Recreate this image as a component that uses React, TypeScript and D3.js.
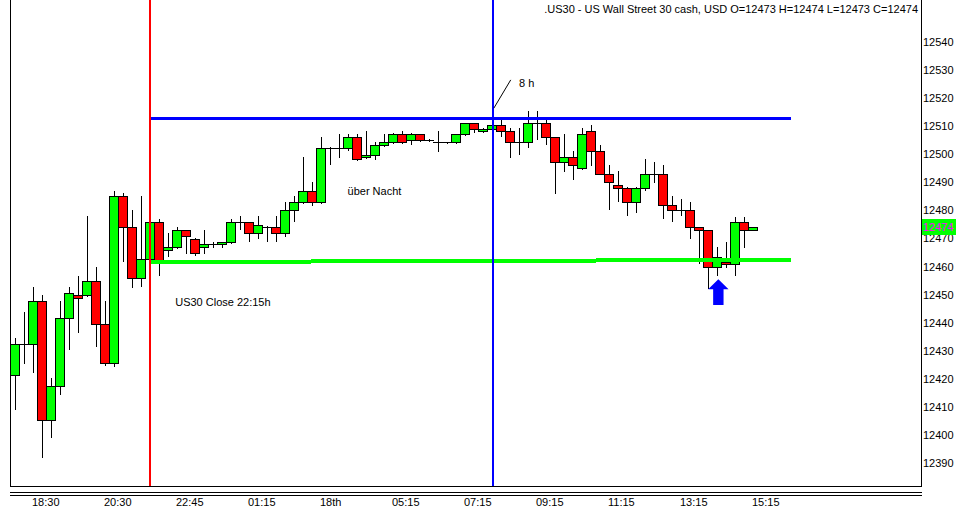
import React from 'react';
import * as d3 from 'd3';

// OHLC of 15-minute bars
const opens = [12421.3,12432.3,12432.3,12447.6,12405.3,12417.3,12441.6,12449.8,12449.8,12454.7,12439.4,12425.5,12485.0,12474.0,12455.8,12462.6,12475.8,12465.9,12466.9,12472.9,12469.7,12466.9,12467.9,12467.9,12468.6,12475.8,12475.8,12471.8,12474.0,12474.0,12471.8,12480.1,12483.0,12486.9,12483.0,12502.1,12502.1,12502.1,12506.0,12498.9,12499.9,12503.2,12504.3,12507.1,12505.1,12507.1,12505.1,12504.3,12504.3,12504.3,12507.1,12511.0,12508.3,12509.1,12510.3,12508.2,12504.3,12504.3,12511.0,12511.0,12506.0,12497.1,12498.9,12495.0,12508.2,12501.1,12493.0,12489.0,12488.0,12482.9,12488.0,12493.0,12493.0,12481.8,12480.0,12480.0,12474.0,12472.9,12459.7,12461.6,12460.8,12475.8,12473.0];
const highs = [12434.4,12443.7,12452.7,12449.9,12420.3,12447.7,12452.7,12456.5,12478.0,12459.7,12447.7,12486.9,12486.1,12480.1,12485.1,12476.0,12477.0,12471.8,12474.0,12473.0,12470.0,12473.0,12468.7,12468.8,12477.0,12478.0,12476.0,12478.0,12474.5,12478.0,12483.0,12485.1,12499.0,12490.2,12506.2,12502.5,12507.2,12507.2,12507.2,12508.3,12504.3,12507.2,12507.5,12508.3,12507.5,12507.4,12505.3,12508.3,12504.5,12507.3,12511.2,12511.2,12509.5,12511.0,12512.5,12509.3,12509.4,12515.4,12515.4,12512.8,12506.2,12507.2,12501.1,12509.3,12510.4,12503.2,12496.1,12494.0,12488.2,12488.2,12498.3,12497.2,12496.2,12485.0,12484.0,12482.9,12474.2,12473.0,12466.9,12468.6,12477.8,12477.8,12474.0];
const lows = [12409.4,12425.7,12422.6,12392.3,12399.4,12414.5,12430.7,12436.7,12449.5,12431.8,12425.0,12424.7,12462.1,12452.8,12453.0,12462.0,12457.0,12463.9,12466.5,12465.0,12464.0,12465.0,12466.9,12467.0,12468.3,12473.3,12469.0,12470.0,12469.0,12469.0,12471.0,12476.1,12482.5,12482.0,12482.8,12496.4,12499.1,12501.5,12498.0,12498.5,12498.4,12503.0,12504.0,12504.0,12503.6,12504.8,12504.9,12501.3,12504.0,12504.0,12507.0,12508.0,12508.0,12509.0,12506.5,12499.1,12500.2,12502.5,12505.3,12503.6,12486.3,12494.2,12491.3,12494.8,12496.3,12492.8,12480.4,12483.4,12478.3,12479.4,12487.3,12490.0,12477.2,12476.1,12478.3,12470.0,12461.2,12452.5,12456.9,12460.0,12456.9,12467.1,12473.0];
const closes = [12432.3,12432.3,12447.6,12405.3,12417.3,12441.6,12450.5,12448.7,12454.7,12439.4,12425.5,12485.0,12474.0,12455.8,12462.6,12475.8,12462.5,12466.9,12472.9,12470.8,12464.7,12467.9,12467.9,12468.6,12475.8,12475.8,12471.8,12474.7,12474.0,12471.8,12480.1,12483.0,12486.9,12483.0,12502.1,12502.1,12502.1,12506.0,12498.2,12499.9,12503.2,12504.3,12507.1,12504.3,12507.1,12505.1,12505.1,12504.3,12504.3,12507.1,12511.0,12509.1,12509.1,12510.3,12508.2,12504.3,12504.3,12511.0,12511.0,12506.0,12497.1,12498.9,12496.1,12507.1,12501.1,12493.0,12490.0,12488.0,12482.9,12488.0,12493.0,12493.0,12481.8,12480.0,12480.0,12474.0,12472.9,12459.7,12463.5,12460.8,12475.8,12472.9,12474.0];

const priceTicks = [12540,12530,12520,12510,12500,12490,12480,12470,12460,12450,12440,12430,12420,12410,12400,12390];
const timeLabels = ['18:30','20:30','22:45','01:15','18th','05:15','07:15','09:15','11:15','13:15','15:15'];
const timeLabelBars = [3,11,19,27,35,43,51,59,67,75,83];

const titleText = '.US30 - US Wall Street 30 cash, USD O=12473 H=12474 L=12473 C=12474';
const lastPrice = 12474;

// drawn objects (bar index / price)
const verticalBars = [15, 53.1];
const blueTrend = [{ bar: 15, price: 12512.8 }, { bar: 86.2, price: 12512.8 }];
const greenTrend = [{ bar: 15.1, price: 12461.6 }, { bar: 86.2, price: 12462.4 }];
const arrowAt = { bar: 78.15, price: 12455.5 };
const noteLine = [{ bar: 53.2, price: 12516.4 }, { bar: 55.08, price: 12526.5 }];
const textNotes = [
  { text: 'über Nacht', bar: 36.95, price: 12485.6 },
  { text: 'US30 Close 22:15h', bar: 17.8, price: 12446.0 },
  { text: '8 h', bar: 56.0, price: 12524.0 },
];

const GREEN = '#00ff00';
const RED = '#ff0000';
const BLUE = '#0000ff';
const FONT = '"Liberation Sans", Arial, sans-serif';

export default function App() {
  const W = 962, H = 514;
  const left = 10, right = 921, bottom = 486;
  const x = d3.scaleLinear().domain([0, 1]).range([15, 24]);
  const y = d3.scaleLinear().domain([12390, 12540]).range([463.05, 42]);
  const line = d3.line<{ bar: number; price: number }>().x(d => x(d.bar)).y(d => y(d.price));

  const ax = x(arrowAt.bar), ay = y(arrowAt.price);
  const arrowPts = [
    [ax, ay], [ax + 10.2, ay + 10], [ax + 5.2, ay + 10], [ax + 5.2, ay + 25.7],
    [ax - 5.2, ay + 25.7], [ax - 5.2, ay + 10], [ax - 10.2, ay + 10],
  ].map(p => p.join(',')).join(' ');

  return (
    <svg width={W} height={H} style={{ position: 'absolute', left: 0, top: 0, background: '#fff' }}
      fontFamily={FONT}>
      <rect x={0} y={0} width={W} height={H} fill="#fff" />
      {/* candles */}
      <g shapeRendering="crispEdges">
        {opens.map((o, i) => {
          const c = closes[i];
          const cx = x(i);
          const t = Math.round(y(Math.max(o, c)));
          const b = Math.round(y(Math.min(o, c)));
          const color = c > o ? GREEN : RED;
          return (
            <g key={i}>
              <line x1={cx + 0.5} x2={cx + 0.5} y1={Math.round(y(highs[i]))} y2={Math.round(y(lows[i])) + 1}
                stroke="#000" strokeWidth={1} />
              {b - t >= 1 ? (
                <rect x={cx - 4.5} y={t + 0.5} width={9} height={b - t} fill={color} stroke="#000" strokeWidth={1} />
              ) : (
                <line x1={cx - 5} x2={cx + 5} y1={t + 0.5} y2={t + 0.5} stroke="#000" strokeWidth={1} />
              )}
            </g>
          );
        })}
      </g>
      {/* objects */}
      <g shapeRendering="crispEdges">
        <path d={line(greenTrend) || ''} stroke={GREEN} strokeWidth={4} fill="none" />
        <path d={line(blueTrend) || ''} stroke={BLUE} strokeWidth={3} fill="none" />
        <line x1={x(verticalBars[0])} x2={x(verticalBars[0])} y1={0} y2={bottom} stroke={RED} strokeWidth={2} />
        <line x1={x(verticalBars[1])} x2={x(verticalBars[1])} y1={0} y2={bottom} stroke={BLUE} strokeWidth={2} />
      </g>
      <path d={line(noteLine) || ''} stroke="#000" strokeWidth={1} fill="none" />
      <polygon points={arrowPts} fill={BLUE} />
      {textNotes.map((n, i) => (
        <text key={i} x={x(n.bar)} y={y(n.price)} fontSize={11} fill="#000">{n.text}</text>
      ))}
      {/* frame */}
      <g shapeRendering="crispEdges" stroke="#000" strokeWidth={1}>
        <line x1={left + 0.5} x2={left + 0.5} y1={0} y2={bottom + 1} />
        <line x1={right + 0.5} x2={right + 0.5} y1={0} y2={bottom + 1} />
        <line x1={left} x2={right + 1} y1={bottom + 0.5} y2={bottom + 0.5} />
        <line x1={left} x2={right + 1} y1={492.5} y2={492.5} />
        <line x1={left} x2={right + 1} y1={495.5} y2={495.5} />
      </g>
      <text x={918} y={13} fontSize={11} textAnchor="end" fill="#000">{titleText}</text>
      {priceTicks.map(p => (
        <text key={p} x={923} y={y(p)} dy="0.36em" fontSize={11} fill="#000">{p}</text>
      ))}
      <rect x={922} y={219} width={34} height={16} fill={GREEN} />
      <text x={923} y={y(lastPrice)} dy="0.36em" fontSize={11} fill="#ff00ff">{lastPrice}</text>
      {timeLabels.map((t, k) => (
        <text key={t} x={x(timeLabelBars[k]) - 10} y={506} fontSize={11} fill="#000">{t}</text>
      ))}
    </svg>
  );
}
